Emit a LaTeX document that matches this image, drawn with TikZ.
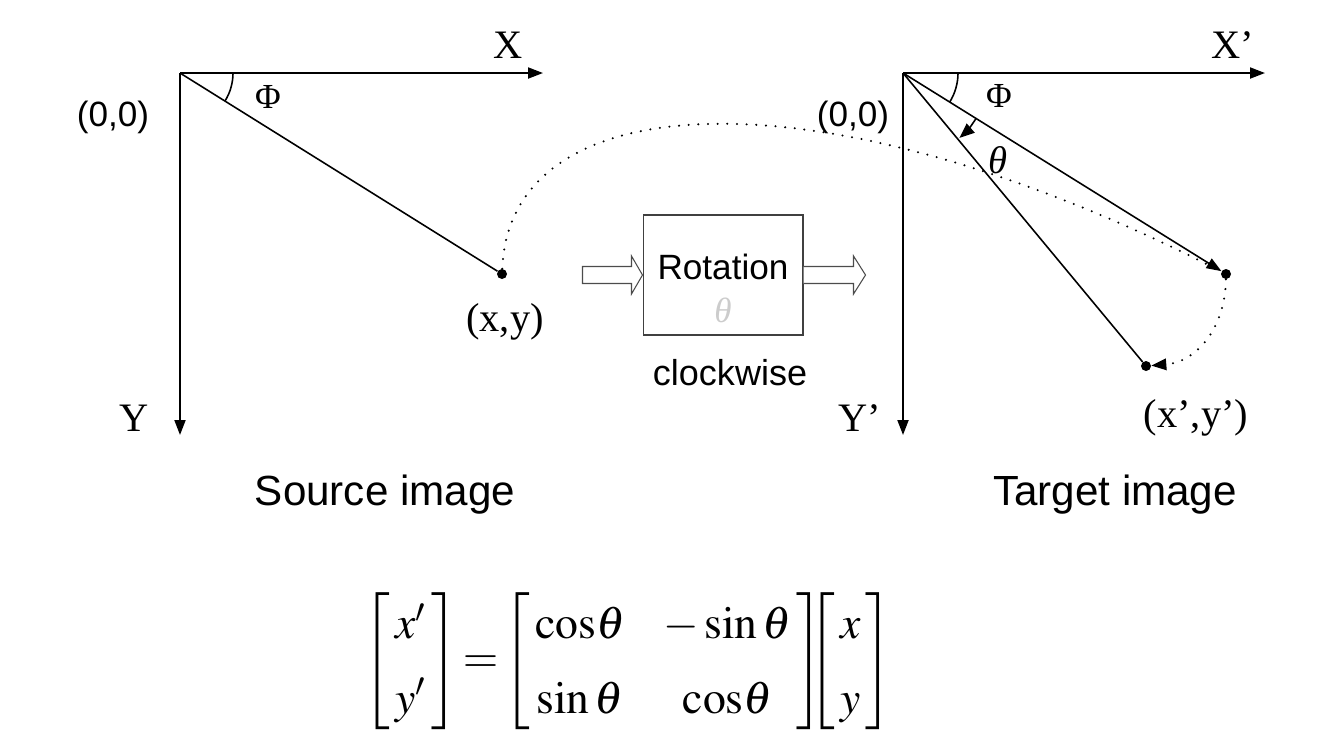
\documentclass[tikz,border=0pt]{standalone}
\usepackage{mathptmx}
\usepackage[no-math]{fontspec}
\setmainfont{Liberation Sans}
\newfontfamily\tms{Liberation Serif}
\usetikzlibrary{arrows.meta,calc}

\tikzset{
    axis/.style={line width=1.1pt, -{Triangle[length=0.3cm,width=0.22cm]}},
    ray/.style={line width=0.9pt},
    dotline/.style={line width=1.3pt, line cap=round, dash pattern=on 0pt off 5.5pt},
    pt/.style={circle, fill=black, minimum size=0.2cm, inner sep=0pt},
    serif/.style={font=\tms\fontsize{23}{26}\selectfont},
    coord/.style={font=\tms\fontsize{23}{26}\selectfont},
    sans/.style={font=\fontsize{20}{24}\selectfont},
    hollow/.style={draw=black!70, line width=0.6pt, fill=white}
}

\begin{document}
\begin{tikzpicture}[x=0.02cm, y=0.02cm]
    \useasboundingbox (0,0) rectangle (1327,-752);

    % --- Source image ---
    \coordinate (o1) at (180,-73);
    \coordinate (x1) at (543,-73);
    \coordinate (y1) at (180,-435);
    \node[pt] (xy) at (502,-274) {};
    \draw[axis] (o1) -- (x1);
    \draw[axis] (o1) -- (y1);
    \draw[ray] (o1) -- (xy);
    \draw[ray] ($(o1)+(53,0)$) arc (0:-32:53);
    \node[serif] at (508,-45) {X};
    \node[serif] at (134,-418) {Y};
    \node[sans] at (113,-117) {(0,0)};
    \node[font=\tms\fontsize{20}{24}\selectfont] at (268,-97) {Φ};
    \node[coord] at (505,-322) {(x,y)};
    \node[font=\fontsize{24}{28}\selectfont] at (385,-495) {Source image};

    % --- Rotation block ---
    \node[draw=black!75, line width=0.6pt, minimum width=3.2cm, minimum height=2.4cm] (rot) at (723,-275) {};
    \node[font=\fontsize{20}{24}\selectfont] at (723,-267) {Rotation};
    \node[font=\tms\itshape\fontsize{20}{24}\selectfont, text=black!20] at (723,-310) {θ};
    \node[font=\fontsize{20.5}{24}\selectfont] at (730,-373) {clockwise};
    \draw[hollow] (rot.west) -- ++(-11,19) -- ++(0,-10.5) -- ++(-49,0) -- ++(0,-17)
        -- ++(49,0) -- ++(0,-10.5) -- cycle;
    \draw[hollow] ($(rot.east)+(0,8.5)$) -- ++(50,0) -- ++(0,10.5) -- ++(12,-19)
        -- ++(-12,-19) -- ++(0,10.5) -- ++(-50,0);

    % --- Target image ---
    \coordinate (o2) at (903,-73);
    \coordinate (x2) at (1265,-73);
    \coordinate (y2) at (903,-435);
    \node[pt] (p2) at (1226,-274) {};
    \node[pt] (q2) at (1146,-366) {};
    \draw[axis] (o2) -- (x2);
    \draw[axis] (o2) -- (y2);
    \draw[ray, -{Triangle[length=0.3cm,width=0.22cm]}] (o2) -- (p2);
    \draw[ray] (o2) -- (q2);
    \draw[ray] ($(o2)+(55,0)$) arc (0:-32:55);
    \draw[ray, -{Triangle[length=0.3cm,width=0.24cm]}] ($(o2)+(-31.9:86)$) arc (-31.9:-49:86);
    \node[serif] at (1233,-45) {X’};
    \node[serif] at (860,-418) {Y’};
    \node[sans] at (853,-117) {(0,0)};
    \node[font=\tms\fontsize{20}{24}\selectfont] at (999,-96) {Φ};
    \node[font=\tms\itshape\fontsize{22}{26}\selectfont] at (998,-160) {θ};
    \node[coord] at (1196,-418) {(x’,y’)};
    \node[font=\fontsize{24}{28}\selectfont] at (1115,-495) {Target image};

    % --- Dotted paths ---
    \draw[dotline] (xy) .. controls (510,-80) and (830,-70) .. (p2);
    \draw[dotline, arrows={-{Triangle[length=0.3cm,width=0.24cm,line width=0pt]}}]
        (p2) .. controls (1225,-330) and (1195,-362) .. (q2);

    % --- Equation ---
    \node (eq) at (628,-661) {\fontsize{26}{32}\selectfont
        \delimiterfactor=850 \delimitershortfall=14pt
        $\renewcommand{\arraystretch}{1.33}
        \left[\begin{array}{@{\,}c@{\,}} x' \\ y' \end{array}\right]\!
        =\! \left[\begin{array}{@{\,}c@{\hspace{22pt}}c@{\,}} \mathrm{cos}\theta & -\sin\theta \\ \sin\theta & \mathrm{cos}\theta \end{array}\right]\!\!\!\!
        \left[\begin{array}{@{\,}c@{\,}} x \\ y \end{array}\right]$};
\end{tikzpicture}
\end{document}
